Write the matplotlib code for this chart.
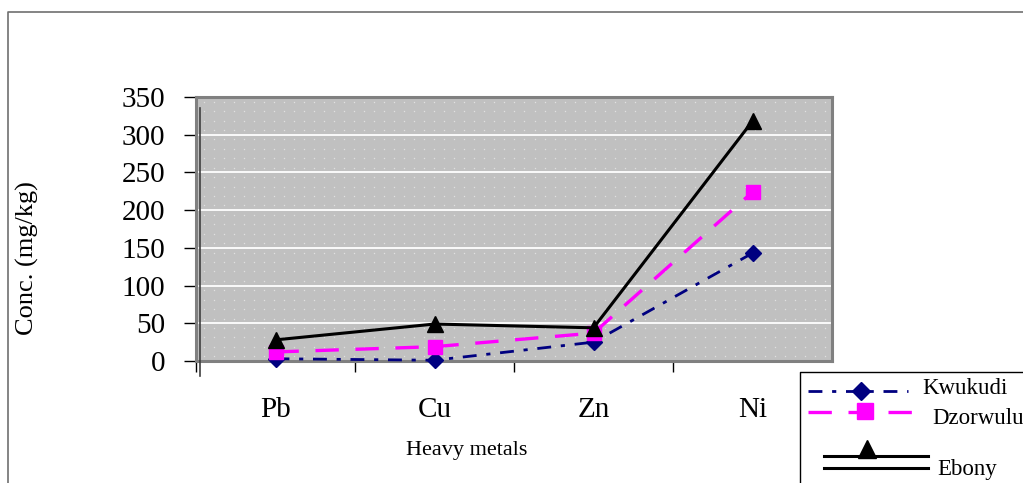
import numpy as np
import matplotlib
matplotlib.use('Agg')
import matplotlib.pyplot as plt
from matplotlib.lines import Line2D

plt.rcParams['font.family'] = ['Liberation Serif', 'DejaVu Serif']

# data
metals = ['Pb', 'Cu', 'Zn', 'Ni']
kwukudi = [3, 1, 25, 143]
dzorwulu = [12, 19, 37, 224]
ebony = [28, 49, 44, 318]

fig = plt.figure(figsize=(10.23, 4.83), dpi=100)
W, H = 1023.0, 483.0


def fx(px):
    return px / W


def fy(py):
    return 1 - py / H


ax = fig.add_axes([fx(196), fy(361), fx(832) - fx(196), fy(97) - fy(361)])
ax.set_facecolor('#C0C0C0')
x = np.arange(len(metals))

# dotted background pattern
gx, gy = np.meshgrid(np.arange(-0.45, 3.5, 0.063), np.arange(6.25, 350, 12.5))
ax.scatter(gx.ravel(), gy.ravel(), s=1.0, color='#E0E0E0', linewidths=0, zorder=0.5)
for v in range(50, 350, 50):
    ax.axhline(v, color='white', lw=1.3, zorder=1)

ax.plot(x, kwukudi, color='#000080', lw=2.0, linestyle=(0, (5, 3.5, 1.5, 3.5)),
        marker='D', markersize=8, zorder=3, clip_on=False)
ax.plot(x, dzorwulu, color='#FF00FF', lw=2.4, linestyle=(0, (7, 5)),
        marker='s', markersize=10, zorder=3, clip_on=False)
ax.plot(x, ebony, color='black', lw=2.2, linestyle='-',
        marker='^', markersize=12, zorder=4, clip_on=False)

ax.set_xlim(-0.5, 3.5)
ax.set_ylim(0, 350)
ax.set_yticks(range(0, 351, 50))
ax.set_xticks(x)
ax.set_xticklabels(metals)
ax.set_xticks([-0.5, 0.5, 1.5, 2.5], minor=True)
ax.tick_params(axis='x', which='major', length=0, pad=26, labelsize=21)
ax.tick_params(axis='x', which='minor', length=8, width=1, color='black', direction='out')
ax.tick_params(axis='y', length=9, width=1, color='black', pad=13, labelsize=21)
for s in ax.spines.values():
    s.set_color('#808080')
    s.set_linewidth(2.2)

# inner shadow line on the left
fig.add_artist(Line2D([fx(200), fx(200)], [fy(108), fy(376)], color='#404040', lw=1.2))

fig.text(fx(467), fy(450), 'Heavy metals', ha='center', va='center', fontsize=16)
fig.text(fx(27), fy(258), 'Conc. (mg/kg)', ha='center', va='center', fontsize=19, rotation=90)

# figure border
fig.add_artist(Line2D([fx(8), fx(8), fx(1023)], [fy(483), fy(12), fy(12)], color='#707070', lw=1.2))

# legend box drawn by hand (it runs off the figure edge)
fig.add_artist(Line2D([fx(800), fx(800), fx(1023)], [fy(483), fy(372), fy(372)], color='black', lw=1))
fig.add_artist(Line2D([fx(808), fx(908)], [fy(391), fy(391)], color='#000080', lw=2.0,
                      linestyle=(0, (5, 3.5, 1.5, 3.5))))
fig.add_artist(Line2D([fx(861)], [fy(391)], color='#000080', marker='D', markersize=9))
fig.text(fx(922), fy(389), 'Kwukudi', ha='left', va='center', fontsize=16.5)
fig.add_artist(Line2D([fx(808), fx(914)], [fy(412), fy(412)], color='#FF00FF', lw=2.4,
                      linestyle=(0, (7, 5))))
fig.add_artist(Line2D([fx(865)], [fy(411)], color='#FF00FF', marker='s', markersize=11))
fig.text(fx(932), fy(418), 'Dzorwulu', ha='left', va='center', fontsize=16.5)
fig.add_artist(Line2D([fx(824), fx(928)], [fy(456), fy(456)], color='black', lw=2.2))
fig.add_artist(Line2D([fx(867)], [fy(449)], color='black', marker='^', markersize=13))
fig.add_artist(Line2D([fx(824), fx(928)], [fy(468), fy(468)], color='black', lw=2.2))
fig.text(fx(937), fy(470), 'Ebony', ha='left', va='center', fontsize=16.5)

fig.savefig('out.png', dpi=100)
